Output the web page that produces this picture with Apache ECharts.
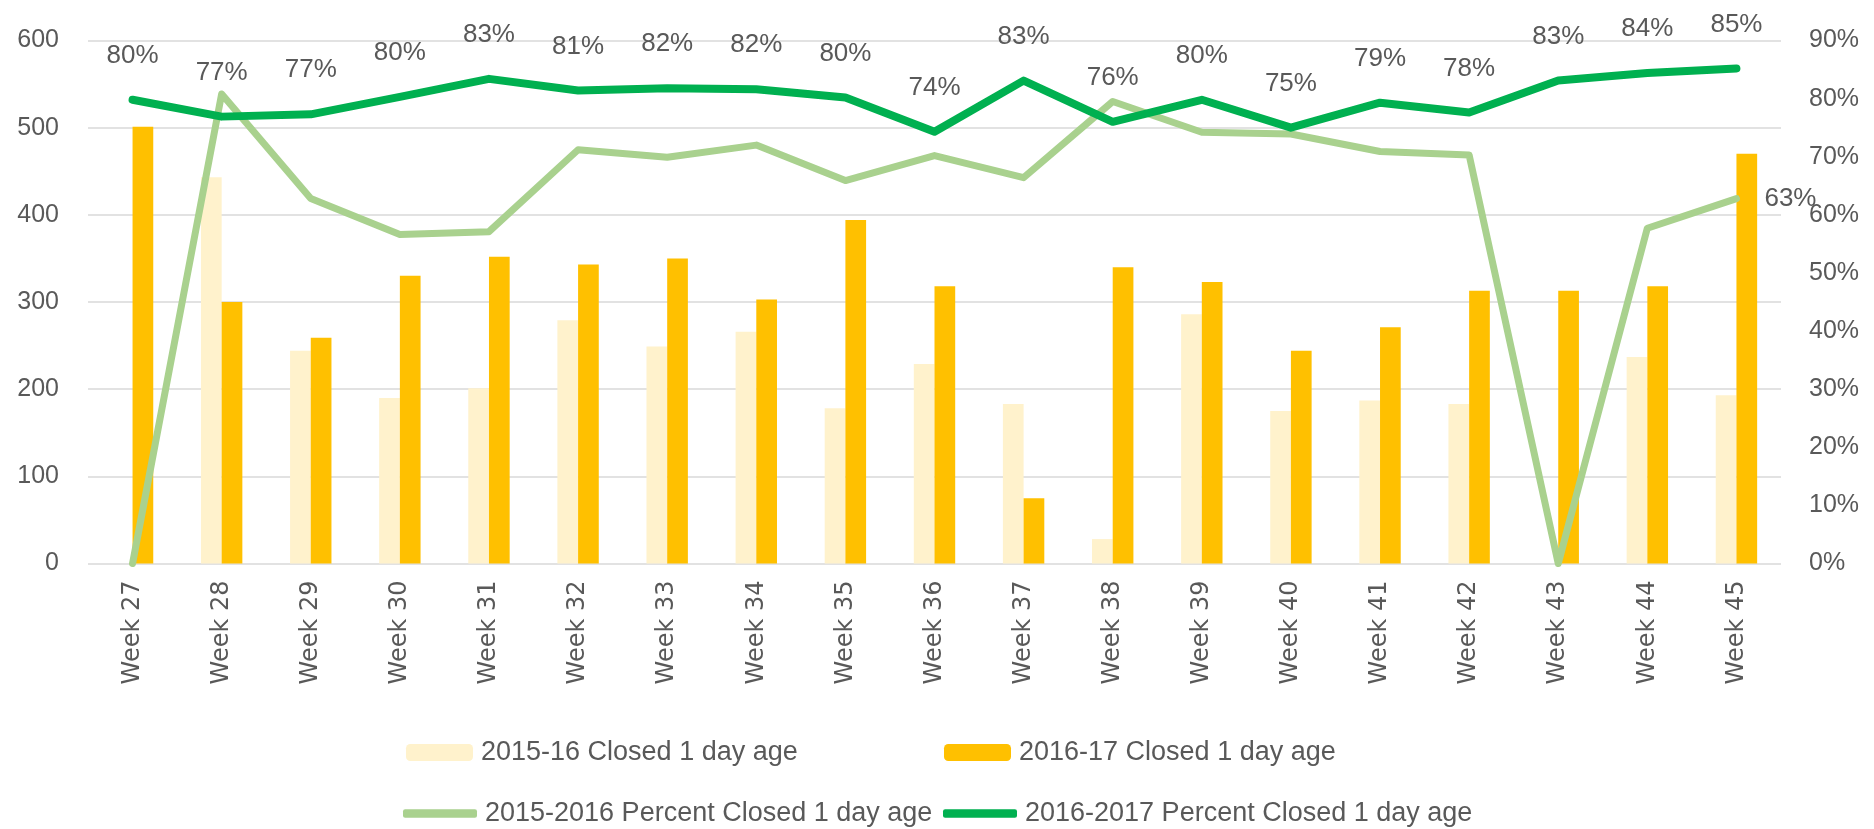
<!DOCTYPE html>
<html>
<head>
<meta charset="utf-8">
<script src="https://cdn.jsdelivr.net/npm/echarts@6/dist/echarts.min.js"></script>
<style>
html,body{margin:0;padding:0;background:#fff;}
#chart{width:1874px;height:829px;}
</style>
</head>
<body>
<div id="chart"></div>
<script>
const categories = ['Week 27','Week 28','Week 29','Week 30','Week 31','Week 32','Week 33','Week 34','Week 35','Week 36','Week 37','Week 38','Week 39','Week 40','Week 41','Week 42','Week 43','Week 44','Week 45'];
const closed1516 = [0,443,244,190,201,279,249,266,178,229,183,28,286,175,187,183,0,237,193];
const closed1617 = [501,300,259,330,352,343,350,303,394,318,75,340,323,244,271,313,313,318,470];
const pct1516 = [0,80.8,62.8,56.6,57.1,71.2,69.9,72.0,65.9,70.2,66.4,79.5,74.2,73.9,70.9,70.3,0,57.7,62.8];
const pct1617 = [79.8,76.9,77.3,80.3,83.4,81.4,81.8,81.6,80.2,74.3,83.1,76.0,79.8,75.0,79.3,77.6,83.1,84.4,85.2];
const leftTicks = {min:0, max:600, interval:100};
const rightTicks = {min:0, max:90, interval:10};
const seriesNames = ['2015-16 Closed 1 day age','2016-17 Closed 1 day age','2015-2016 Percent Closed 1 day age','2016-2017 Percent Closed 1 day age'];

const txt = '#595959';
const font = '"Liberation Sans", Arial, sans-serif';
const chart = echarts.init(document.getElementById('chart'));
function legendItem(name, left, top, line){
  return {
    data:[{name:name, icon: 'roundRect'}],
    left:left, top:top,
    itemWidth: line ? 74 : 67,
    itemHeight: line ? 8.5 : 17,
    itemGap: 0,
    padding: 0,
    textStyle:{color:txt, fontSize:27, fontFamily:font, padding:[0,0,0,3]}
  };
}
chart.setOption({
  animation:false,
  backgroundColor:'#fff',
  grid:{left:88, right:93, top:40.5, bottom:265.5, containLabel:false},
  legend:[
    legendItem(seriesNames[0], 406, 739, false),
    legendItem(seriesNames[1], 944, 739, false),
    legendItem(seriesNames[2], 403, 800, true),
    legendItem(seriesNames[3], 943, 800, true)
  ],
  xAxis:{
    type:'category', data:categories,
    axisLine:{show:false}, axisTick:{show:false},
    axisLabel:{rotate:90, margin:17, color:txt, fontSize:24, fontFamily:'"DejaVu Sans", sans-serif', interval:0}
  },
  yAxis:[
    {type:'value', min:leftTicks.min, max:leftTicks.max, interval:leftTicks.interval,
     axisLine:{show:false}, axisTick:{show:false},
     axisLabel:{color:txt, fontSize:25, fontFamily:font, margin:29},
     splitLine:{lineStyle:{color:'#D9D9D9', width:1.5}}},
    {type:'value', min:rightTicks.min, max:rightTicks.max, interval:rightTicks.interval,
     axisLine:{show:false}, axisTick:{show:false},
     axisLabel:{color:txt, fontSize:25, fontFamily:font, margin:28, formatter:'{value}%'},
     splitLine:{show:false}}
  ],
  series:[
    {name:seriesNames[0], type:'bar', data:closed1516, barWidth:20.7, barGap:'0%',
     itemStyle:{color:'#FFF2CC'}},
    {name:seriesNames[1], type:'bar', data:closed1617, barWidth:20.7, barGap:'0%',
     itemStyle:{color:'#FFC000'}},
    {name:seriesNames[2], type:'line', yAxisIndex:1, data:pct1516,
     symbol:'circle', symbolSize:2, showSymbol:true, showAllSymbol:true,
     lineStyle:{color:'#A9D18E', width:7, join:'round', cap:'round'}, itemStyle:{color:'#A9D18E'},
     label:{show:true, position:'right', distance:27, color:txt, fontSize:26, fontFamily:font,
       formatter:p => p.dataIndex === pct1516.length-1 ? Math.round(p.value)+'%' : ''}},
    {name:seriesNames[3], type:'line', yAxisIndex:1, data:pct1617,
     symbol:'circle', symbolSize:2, showSymbol:true, showAllSymbol:true,
     lineStyle:{color:'#00B050', width:8, join:'round', cap:'round'}, itemStyle:{color:'#00B050'},
     label:{show:true, position:'top', distance:30, color:txt, fontSize:26, fontFamily:font,
       formatter:p => Math.round(p.value)+'%'}}
  ]
});
</script>
</body>
</html>
